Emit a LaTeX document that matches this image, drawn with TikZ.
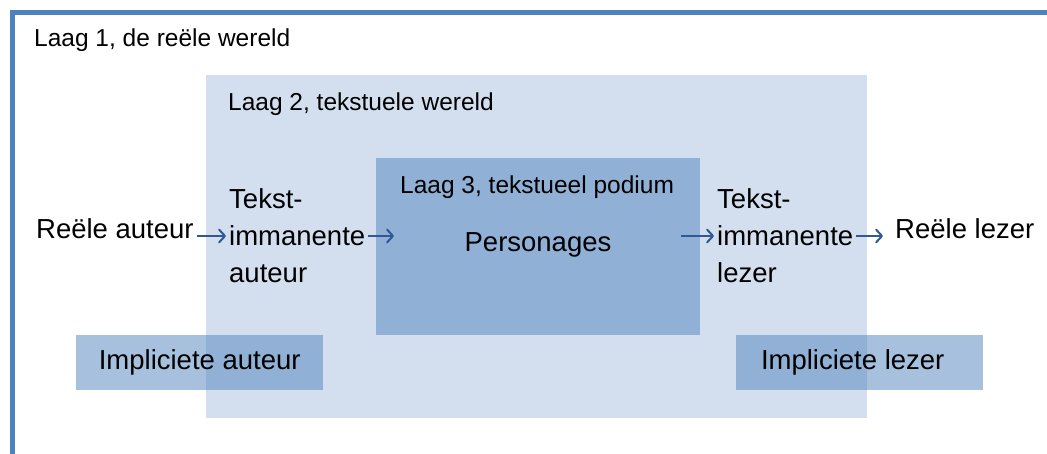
\documentclass[tikz,border=0pt]{standalone}
\usepackage{fontspec}
\setmainfont{Liberation Sans}
\usetikzlibrary{arrows.meta, positioning}
\definecolor{kaderblauw}{RGB}{79,129,189}
\definecolor{pijlblauw}{RGB}{47,88,148}
\newcommand{\laagfont}{\fontsize{24.5}{29}\selectfont}
\newcommand{\hoofdfont}{\fontsize{27.5}{37}\selectfont}
\tikzset{
	laagvlak/.style={fill=kaderblauw, fill opacity=#1, text opacity=1, inner sep=0pt, anchor=north west},
	laagtekst/.style={font=\laagfont, inner sep=0pt, anchor=base west},
	rolblok/.style={font=\hoofdfont, align=left, inner sep=3pt, anchor=west},
	rol/.style={font=\hoofdfont, inner sep=3pt, text height=18pt, text depth=8pt, anchor=base west},
	pijl/.style={draw=pijlblauw, line width=2pt, -{Straight Barb[length=6pt,width=13pt,round]}}
}

\begin{document}
\begin{tikzpicture}[x=1pt, y=-1pt]
			\useasboundingbox (0,0) rectangle (1047,454);
			% Laag 1, frame
			\draw[kaderblauw, line width=5pt] (12,454) -- (12,12.5) -- (1047,12.5);
			\node[laagtekst] (laag1tekst) at (34,47) {Laag 1, de reële wereld};
			% Laag 2
			\node[laagvlak=0.25, minimum width=661pt, minimum height=343pt] (laag2) at (206,75) {};
			\node[laagtekst] (laag2tekst) at (228,111) {Laag 2, tekstuele wereld};
			% Laag 3
			\node[laagvlak=0.5, minimum width=324pt, minimum height=177pt] (laag3) at (376,158) {};
			\node[laagtekst] (laag3tekst) at (400,194) {Laag 3, tekstueel podium};
			\node[font=\hoofdfont, inner sep=0pt, anchor=base] (personages) at (538,252) {Personages};
			% Impliciete auteur / lezer
			\node[laagvlak=0.5, minimum width=247pt, minimum height=55pt, font=\hoofdfont] (implauteur) at (76,335) {Impliciete auteur};
			\node[laagvlak=0.5, minimum width=247pt, minimum height=55pt, font=\hoofdfont] (impllezer) at (736,335) {\hspace*{-14pt}Impliciete lezer};
			% Rollen
			\node[rol] (reauteur) at (33,239) {Reële auteur};
			\node[rolblok] (tiauteur) at (226,236) {Tekst-\\immanente\\auteur};
			\node[rolblok] (tilezer) at (714,236) {Tekst-\\immanente\\lezer};
			\node[rol] (relezer) at (892,239) {Reële lezer};
			\coordinate (inlaag3) at (394,236);
			\coordinate (uitlaag3) at (681,236);
			% Pijlen
			\draw[pijl] (reauteur.east |- tiauteur.west) -- (tiauteur.west);
			\draw[pijl] (tiauteur.east) -- (inlaag3);
			\draw[pijl] (uitlaag3) -- (tilezer.west);
			\draw[pijl, shorten >=9pt] (tilezer.east) -- (tilezer.east -| relezer.west);
\end{tikzpicture}
\end{document}
